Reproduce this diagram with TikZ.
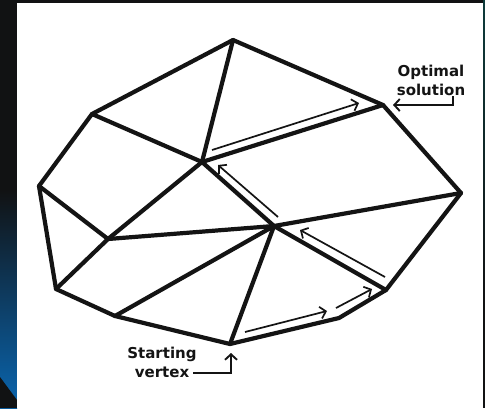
\documentclass[tikz,border=0pt]{standalone}
\usepackage{fontspec}
\setmainfont{DejaVu Sans}
\usetikzlibrary{arrows.meta}
\definecolor{bgdark}{HTML}{111213}
\definecolor{bgblue}{HTML}{0A66B0}
\definecolor{bgteal}{HTML}{0E3B3B}
\definecolor{ink}{HTML}{141414}
\tikzset{
  edge/.style={line width=4.2pt, line cap=round, line join=round, draw=ink},
  pathar/.style={draw=ink, line width=1.7pt, -{Straight Barb[length=5.5pt,width=12pt,line width=1.7pt]}},
  callout/.style={draw=ink, line width=1.9pt, -{Straight Barb[length=5.5pt,width=12pt,line width=1.9pt]}},
  lbl/.style={text=ink, font=\bfseries\fontsize{15}{19}\selectfont, align=center, inner sep=0pt}
}
\begin{document}
\begin{tikzpicture}[x=1pt,y=-1pt]
\useasboundingbox (0,0) rectangle (485,408);
% background
\fill[bgdark] (0,0) rectangle (485,408);
\shade[top color=bgdark, bottom color=bgblue] (0,190) rectangle (17,408);
\fill[bgdark] (0,377) -- (17,400) -- (17,408) -- (0,408) -- cycle;
\shade[top color=bgteal, bottom color=bgdark] (483,0) rectangle (485,300);
\fill[white] (17,3) rectangle (483,408);
% vertices
\coordinate (T) at (233,40);
\coordinate (UL) at (92,114);
\coordinate (L) at (39,186);
\coordinate (LL) at (56,289);
\coordinate (BL) at (115,316);
\coordinate (B) at (230,344);
\coordinate (BRa) at (339,318);
\coordinate (BRb) at (386,290);
\coordinate (R) at (461,193);
\coordinate (UR) at (383,105);
\coordinate (Ca) at (202,162);
\coordinate (Cb) at (274,226);
\coordinate (Cc) at (108,239);
% outer polygon
\draw[edge] (T) -- (UL) -- (L) -- (LL) -- (BL) -- (B) -- (BRa) -- (BRb) -- (R) -- (UR) -- cycle;
% inner edges
\draw[edge] (T) -- (Ca);
\draw[edge] (UL) -- (Ca);
\draw[edge] (Ca) -- (UR);
\draw[edge] (Ca) -- (Cc);
\draw[edge] (Ca) -- (Cb);
\draw[edge] (L) -- (Cc);
\draw[edge] (Cc) -- (LL);
\draw[edge] (Cc) -- (Cb);
\draw[edge] (Cb) -- (R);
\draw[edge] (Cb) -- (BL);
\draw[edge] (Cb) -- (B);
\draw[edge] (Cb) -- (BRb);
% simplex path arrows
\coordinate (a1s) at (245,332); \coordinate (a1e) at (327,311);
\coordinate (a2s) at (336,308); \coordinate (a2e) at (372,289);
\coordinate (a3s) at (385,277); \coordinate (a3e) at (300,230);
\coordinate (a4s) at (278,217); \coordinate (a4e) at (218,165);
\coordinate (a5s) at (212,150); \coordinate (a5e) at (359,103);
\draw[pathar] (a1s) -- (a1e);
\draw[pathar] (a2s) -- (a2e);
\draw[pathar] (a3s) -- (a3e);
\draw[pathar] (a4s) -- (a4e);
\draw[pathar] (a5s) -- (a5e);
% labels
\node[lbl] (opt) at (431,80) {Optimal\\solution};
\node[lbl] (start) at (162,362) {Starting\\vertex};
\coordinate (o1) at (453,96);
\coordinate (o2) at (453,105);
\coordinate (o3) at (393,105);
\draw[callout] (o1) -- (o2) -- (o3);
\coordinate (s1) at (193,373);
\coordinate (s2) at (231,373);
\coordinate (s3) at (231,353);
\draw[callout] (s1) -- (s2) -- (s3);
\end{tikzpicture}
\end{document}
